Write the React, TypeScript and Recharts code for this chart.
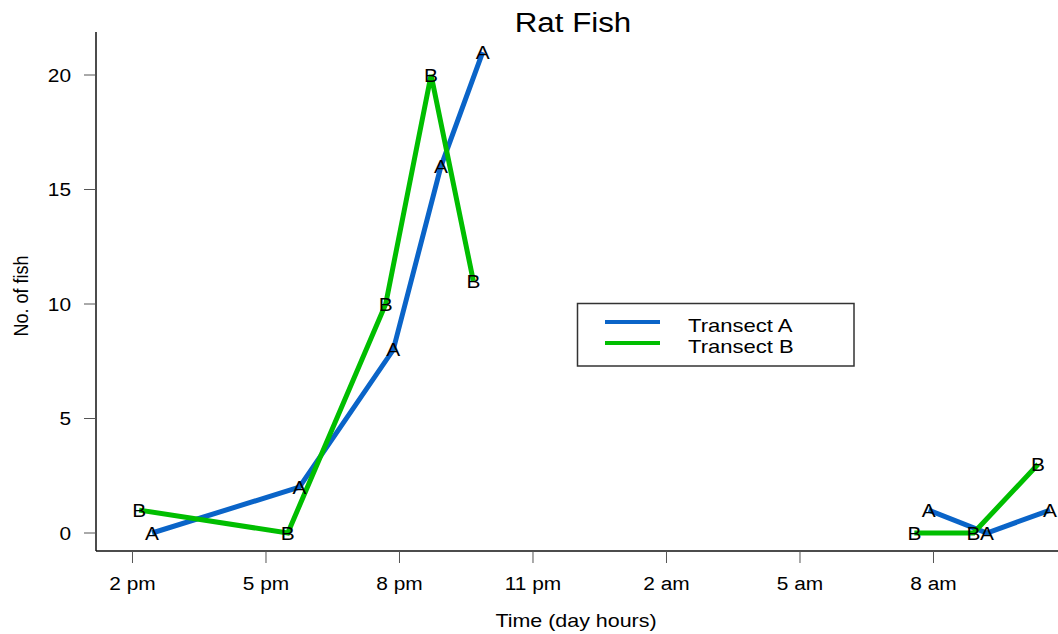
import React from 'react';
import { LineChart, Line, XAxis, YAxis, Customized } from 'recharts';

// Hours since midnight of day 1 (next morning = 24 + hour); null = no sampling (gap)
const timesA = [14.44, 17.75, 19.86, 20.93, 21.87, 27, 31.89, 33.2, 34.62];
const countsA: (number | null)[] = [0, 2, 8, 16, 21, null, 1, 0, 1];
const timesB = [14.15, 17.49, 19.69, 20.71, 21.66, 27, 31.57, 32.9, 34.35];
const countsB: (number | null)[] = [1, 0, 10, 20, 11, null, 0, 0, 3];

const hourTicks = [14, 17, 20, 23, 26, 29, 32];
const hourLabels = ['2 pm', '5 pm', '8 pm', '11 pm', '2 am', '5 am', '8 am'];
const countTicks = [0, 5, 10, 15, 20];

const seriesNames = ['Transect A', 'Transect B'];
const title = 'Rat Fish';
const xTitle = 'Time (day hours)';
const yTitle = 'No. of fish';

const dataA = timesA.map((t, i) => ({ t, v: countsA[i] }));
const dataB = timesB.map((t, i) => ({ t, v: countsB[i] }));

const FONT = '"Liberation Sans", Arial, Helvetica, sans-serif';
const SX = 1.16;
const BLUE = '#0A64C8';
const GREEN = '#00BE00';

const SText = ({ x, y, size, anchor = 'middle', rotate, children }: any) => (
  <g transform={`translate(${x},${y}) scale(${SX},1)${rotate ? ` rotate(${rotate})` : ''}`}>
    <text x={0} y={0} fontSize={size} textAnchor={anchor} fontFamily={FONT} fill="#000">
      {children}
    </text>
  </g>
);

const XTick = (p: any) => {
  const i = hourTicks.indexOf(p.payload.value);
  return <SText x={p.x} y={p.y + 24.5} size={18}>{hourLabels[i]}</SText>;
};

const YTick = (p: any) => (
  <SText x={p.x} y={p.y + 6.5} size={18} anchor="end">{String(p.payload.value)}</SText>
);

const letterDot = (letter: string) => (p: any) => {
  const key = `${letter}-${p.index}`;
  if (p.payload == null || p.payload.v == null || p.cx == null || p.cy == null) return <g key={key} />;
  return (
    <g key={key}>
      <SText x={p.cx} y={p.cy + 6.5} size={18}>{letter}</SText>
    </g>
  );
};

const Decor = () => (
  <g>
    <SText x={573} y={31.5} size={27}>{title}</SText>
    <SText x={576} y={626.5} size={18.5}>{xTitle}</SText>
    <SText x={28} y={296} size={18} rotate={-90}>{yTitle}</SText>
    <rect x={577.5} y={303.5} width={276.5} height={62.5} fill="#fff" stroke="#333" strokeWidth={1.5} />
    <line x1={605} x2={660} y1={322} y2={322} stroke={BLUE} strokeWidth={4} />
    <line x1={605} x2={660} y1={343} y2={343} stroke={GREEN} strokeWidth={4} />
    <SText x={688} y={331.5} size={19} anchor="start">{seriesNames[0]}</SText>
    <SText x={688} y={352.5} size={19} anchor="start">{seriesNames[1]}</SText>
  </g>
);

export default function App() {
  return (
    <div style={{ position: 'absolute', left: 0, top: 0, width: 1058, height: 634, overflow: 'hidden', background: '#fff' }}>
      <LineChart width={1100} height={634} margin={{ top: 32, right: 25, bottom: 0, left: 0 }}>
        <XAxis
          xAxisId="b"
          type="number"
          dataKey="t"
          domain={[13.18, 35.18]}
          allowDataOverflow
          ticks={hourTicks}
          tick={<XTick />}
          tickSize={12}
          height={83}
          axisLine={{ stroke: '#111', strokeWidth: 1.5 }}
          tickLine={{ stroke: '#555', strokeWidth: 1 }}
        />
        <XAxis
          xAxisId="top"
          orientation="top"
          type="number"
          dataKey="t"
          domain={[13.18, 35.18]}
          allowDataOverflow
          height={0}
          tick={false}
          tickLine={false}
          axisLine={{ stroke: '#111', strokeWidth: 1.5 }}
        />
        <YAxis
          type="number"
          domain={[-0.786, 21.878]}
          allowDataOverflow
          ticks={countTicks}
          tick={<YTick />}
          tickSize={12}
          tickMargin={13}
          width={96}
          axisLine={{ stroke: '#111', strokeWidth: 1.5 }}
          tickLine={{ stroke: '#555', strokeWidth: 1 }}
        />
        <Line
          xAxisId="b"
          data={dataA}
          dataKey="v"
          name={seriesNames[0]}
          stroke={BLUE}
          strokeWidth={5}
          connectNulls={false}
          dot={letterDot('A')}
          activeDot={false}
          isAnimationActive={false}
        />
        <Line
          xAxisId="b"
          data={dataB}
          dataKey="v"
          name={seriesNames[1]}
          stroke={GREEN}
          strokeWidth={5}
          connectNulls={false}
          dot={letterDot('B')}
          activeDot={false}
          isAnimationActive={false}
        />
        <Customized component={Decor} />
      </LineChart>
    </div>
  );
}
